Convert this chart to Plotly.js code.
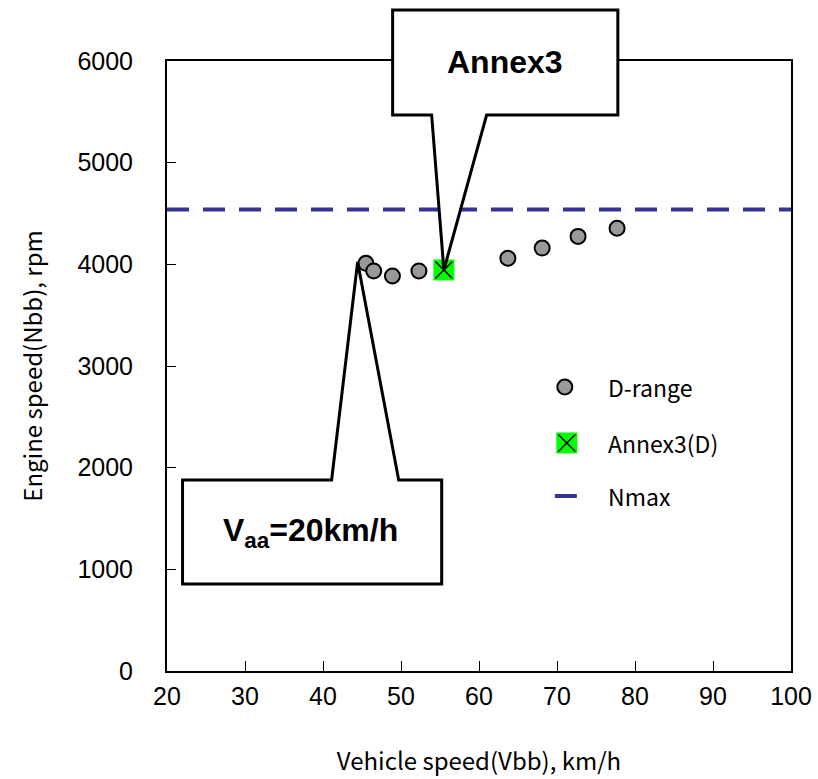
<!DOCTYPE html>
<html>
<head>
<meta charset="utf-8">
<script src="https://cdn.plot.ly/plotly-3.0.1.min.js"></script>
<style>
  html, body { margin: 0; padding: 0; background: #ffffff; }
  #chart { width: 818px; height: 779px; }
</style>
</head>
<body>
<div id="chart"></div>
<script>
// Vehicle speed (km/h) and engine speed (rpm) in D-range
const dRangeSpeed = [45.5, 46.5, 48.9, 52.3, 55.5, 63.7, 68.1, 72.7, 77.7];
const dRangeRpm   = [4010, 3935, 3885, 3935, 3945, 4060, 4160, 4275, 4355];

// Annex3 operating point in D
const annexSpeed = [55.5];
const annexRpm   = [3945];

// Maximum engine speed
const nMax = 4540;

const xTicks = [20, 30, 40, 50, 60, 70, 80, 90, 100];
const yTicks = [0, 1000, 2000, 3000, 4000, 5000, 6000];
const legendLabels = ['D-range', 'Annex3(D)', 'Nmax'];

const X_RANGE = [20, 100];
const Y_RANGE = [0, 6000];

// data units -> paper units (so callouts can leave the plot area)
const px = x => (x - X_RANGE[0]) / (X_RANGE[1] - X_RANGE[0]);
const py = y => (y - Y_RANGE[0]) / (Y_RANGE[1] - Y_RANGE[0]);

const JP = '"Noto Sans CJK JP", "Noto Sans", sans-serif';
const AR = '"Liberation Sans", Arial, sans-serif';
const NAVY = '#333399';

// callout balloon: rectangle with a pointer from its top or bottom edge
function balloon(left, right, top, bottom, baseL, baseR, tipX, tipY, pointerOnTop) {
  const P = (x, y) => px(x).toFixed(4) + ',' + py(y).toFixed(4);
  let d;
  if (pointerOnTop) {
    d = 'M' + P(left, top) + ' L' + P(baseL, top) + ' L' + P(tipX, tipY) +
        ' L' + P(baseR, top) + ' L' + P(right, top) + ' L' + P(right, bottom) +
        ' L' + P(left, bottom) + ' Z';
  } else {
    d = 'M' + P(left, top) + ' L' + P(right, top) + ' L' + P(right, bottom) +
        ' L' + P(baseR, bottom) + ' L' + P(tipX, tipY) + ' L' + P(baseL, bottom) +
        ' L' + P(left, bottom) + ' Z';
  }
  return {
    type: 'path', xref: 'paper', yref: 'paper', layer: 'above', path: d,
    fillcolor: '#ffffff', line: { color: '#000000', width: 3 }
  };
}

const traces = [
  {
    x: X_RANGE, y: [nMax, nMax], mode: 'lines', name: 'Nmax', showlegend: false,
    line: { color: NAVY, width: 4, dash: '22px,14px' }, hoverinfo: 'skip'
  },
  {
    x: dRangeSpeed, y: dRangeRpm, mode: 'markers', name: 'D-range', showlegend: false,
    marker: { symbol: 'circle', size: 15, color: '#999999', line: { color: '#000000', width: 2 } }
  },
  {
    x: annexSpeed, y: annexRpm, mode: 'markers', name: 'Annex3(D)', showlegend: false,
    marker: { symbol: 'square', size: 21, color: '#00ff00', line: { width: 0 } }
  },
  {
    x: annexSpeed, y: annexRpm, mode: 'markers', showlegend: false, hoverinfo: 'skip',
    marker: { symbol: 'x-thin-open', size: 17, color: '#000000', line: { color: '#000000', width: 1.5 } }
  },
  // legend keys, drawn on a hidden unit overlay
  {
    x: [0.6375], y: [0.4656], xaxis: 'x2', yaxis: 'y2', mode: 'markers', showlegend: false, hoverinfo: 'skip',
    marker: { symbol: 'circle', size: 15, color: '#999999', line: { color: '#000000', width: 2 } }
  },
  {
    x: [0.6407], y: [0.3738], xaxis: 'x2', yaxis: 'y2', mode: 'markers', showlegend: false, hoverinfo: 'skip',
    marker: { symbol: 'square', size: 21, color: '#00ff00', line: { width: 0 } }
  },
  {
    x: [0.6407], y: [0.3738], xaxis: 'x2', yaxis: 'y2', mode: 'markers', showlegend: false, hoverinfo: 'skip',
    marker: { symbol: 'x-thin-open', size: 17, color: '#000000', line: { color: '#000000', width: 1.5 } }
  },
  {
    x: [0.6215, 0.6777], y: [0.2869, 0.2869], xaxis: 'x2', yaxis: 'y2', mode: 'lines', showlegend: false, hoverinfo: 'skip',
    line: { color: NAVY, width: 4, dash: '22px,14px' }
  }
];

const legendY = [0.4656, 0.3738, 0.2869];
const annotations = legendLabels.map((t, i) => ({
  xref: 'paper', yref: 'paper', x: 0.7032, y: legendY[i], xanchor: 'left', yanchor: 'middle',
  text: t, showarrow: false, font: { family: JP, size: 23, color: '#000000' }
}));

annotations.push({
  xref: 'paper', yref: 'paper', x: px(63.3), y: py(5990), xanchor: 'center', yanchor: 'middle',
  text: '<b>Annex3</b>', showarrow: false, font: { family: AR, size: 32, color: '#000000' }
});
annotations.push({
  xref: 'paper', yref: 'paper', x: px(38.4), y: py(1367), xanchor: 'center', yanchor: 'middle',
  text: '<b>V<sub>aa</sub>=20km/h</b>', showarrow: false, font: { family: AR, size: 32, color: '#000000' }
});

const shapes = [
  // Annex3 callout, pointing down at the Annex3 point
  balloon(48.93, 77.8, 6501, 5469, 53.93, 60.98, annexSpeed[0], annexRpm[0], false),
  // Vaa callout, pointing up toward the start of the D-range series
  balloon(21.99, 55.22, 1879, 856, 41.1, 49.7, 44.44, 4023, true)
];

const layout = {
  width: 818, height: 779,
  margin: { l: 167, r: 27, t: 61, b: 108, pad: 0 },
  paper_bgcolor: '#ffffff', plot_bgcolor: '#ffffff',
  showlegend: false,
  xaxis: {
    range: X_RANGE, tickvals: xTicks, ticktext: xTicks.map(String),
    ticks: 'inside', ticklen: 10, tickwidth: 1, tickcolor: '#000000',
    showline: true, linecolor: '#000000', linewidth: 2, mirror: true,
    showgrid: false, zeroline: false, ticklabelstandoff: 2,
    tickfont: { family: AR, size: 25, color: '#000000' },
    title: { text: 'Vehicle speed(Vbb), km/h', font: { family: JP, size: 24, color: '#000000' }, standoff: 44 }
  },
  yaxis: {
    range: Y_RANGE, tickvals: yTicks, ticktext: yTicks.map(String),
    ticks: 'inside', ticklen: 9, tickwidth: 1, tickcolor: '#000000',
    showline: true, linecolor: '#000000', linewidth: 2, mirror: true,
    showgrid: false, zeroline: false, ticklabelstandoff: 27,
    tickfont: { family: AR, size: 25, color: '#000000' },
    title: { text: 'Engine speed(Nbb), rpm', font: { family: JP, size: 24, color: '#000000' }, standoff: 28 }
  },
  xaxis2: { overlaying: 'x', range: [0, 1], visible: false, fixedrange: true },
  yaxis2: { overlaying: 'y', range: [0, 1], visible: false, fixedrange: true },
  shapes: shapes,
  annotations: annotations
};

Plotly.newPlot('chart', traces, layout, { displayModeBar: false, staticPlot: true });
</script>
</body>
</html>
